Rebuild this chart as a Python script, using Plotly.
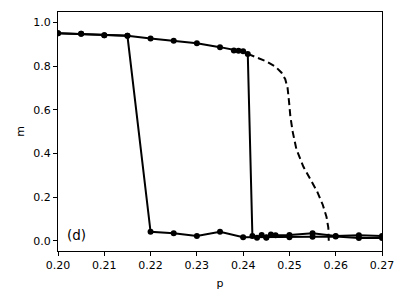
import plotly.graph_objects as go

# Forward sweep (upper branch then jump down)
p_fwd = [0.20, 0.205, 0.21, 0.215, 0.22, 0.225, 0.23, 0.235, 0.238, 0.239, 0.24, 0.241,
         0.242, 0.243, 0.244, 0.245, 0.246, 0.247, 0.25, 0.255, 0.26, 0.265, 0.27]
m_fwd = [0.951, 0.948, 0.942, 0.939, 0.927, 0.916, 0.905, 0.887, 0.872, 0.870, 0.868, 0.856,
         0.022, 0.014, 0.026, 0.014, 0.029, 0.025, 0.026, 0.034, 0.022, 0.025, 0.022]

# Second sweep (drops early)
p_bwd = [0.20, 0.205, 0.21, 0.215, 0.22, 0.225, 0.23, 0.235, 0.24, 0.245, 0.25, 0.255, 0.26, 0.265, 0.27]
m_bwd = [0.951, 0.948, 0.942, 0.939, 0.041, 0.034, 0.022, 0.041, 0.016, 0.016, 0.016, 0.018, 0.020, 0.013, 0.013]

# Dashed (theoretical) curve
p_th = [0.2410, 0.2430, 0.2450, 0.2470, 0.2483, 0.2491, 0.2496, 0.2499, 0.2502, 0.2507,
        0.2515, 0.2530, 0.2545, 0.2560, 0.2572, 0.2580, 0.2584, 0.2585, 0.2585]
m_th = [0.856, 0.840, 0.822, 0.797, 0.770, 0.740, 0.700, 0.640, 0.570, 0.500,
        0.420, 0.340, 0.285, 0.225, 0.165, 0.110, 0.060, 0.020, 0.000]

xticks = [0.20, 0.21, 0.22, 0.23, 0.24, 0.25, 0.26, 0.27]
yticks = [0.0, 0.2, 0.4, 0.6, 0.8, 1.0]

fig = go.Figure()
fig.add_trace(go.Scatter(x=p_bwd, y=m_bwd, mode="lines+markers",
                         line=dict(color="black", width=2),
                         marker=dict(color="black", size=6)))
fig.add_trace(go.Scatter(x=p_fwd, y=m_fwd, mode="lines+markers",
                         line=dict(color="black", width=2),
                         marker=dict(color="black", size=6)))
fig.add_trace(go.Scatter(x=p_th, y=m_th, mode="lines",
                         line=dict(color="black", width=2, dash="7px,4px")))

fig.add_annotation(x=0.2015, y=0.028, xref="x", yref="y", text="(d)", showarrow=False,
                   xanchor="left", yanchor="middle",
                   font=dict(family="DejaVu Sans", size=13.5, color="black"))

axis_common = dict(showline=True, mirror=True, linecolor="black", linewidth=1,
                   ticks="outside", ticklen=4, tickcolor="black", showgrid=False,
                   zeroline=False, automargin=False,
                   tickfont=dict(family="DejaVu Sans", size=11, color="black"))

fig.update_layout(
    width=407, height=305,
    margin=dict(l=58, r=25, t=12, b=54),
    paper_bgcolor="white", plot_bgcolor="white",
    showlegend=False,
    font=dict(family="DejaVu Sans", size=11, color="black"),
    xaxis=dict(range=[0.20, 0.27], tickvals=xticks,
               ticktext=[f"{v:.2f}" for v in xticks],
               title=dict(text="p", font=dict(size=11), standoff=8), **axis_common),
    yaxis=dict(range=[-0.047, 1.048], tickvals=yticks,
               ticktext=[f"{v:.1f}" for v in yticks],
               title=dict(text="m", font=dict(size=11), standoff=6), **axis_common),
)

fig.write_html("out.html", config={"displayModeBar": False},
               post_script="document.body.style.margin='0';document.body.style.overflow='hidden';")
